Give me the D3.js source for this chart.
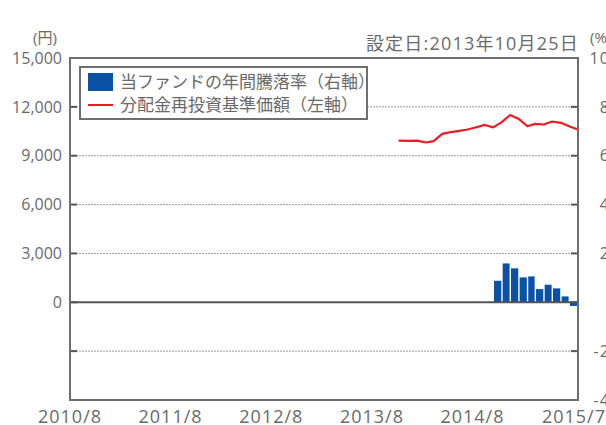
<!DOCTYPE html>
<html>
<head>
<meta charset="utf-8">
<script src="https://cdn.jsdelivr.net/npm/d3@7"></script>
<style>
  body { margin: 0; background: #fff; }
  text { font-family: "Open Sans", "Noto Sans CJK JP", sans-serif; fill: #6a6a6a; }
</style>
</head>
<body>
<div id="chart"></div>
<script>
// month-end navs (yen), left axis
const navDates = ['2013-10-25', '2013-11-30', '2013-12-31', '2014-01-31', '2014-02-28', '2014-03-31',
	'2014-04-30', '2014-05-31', '2014-06-30', '2014-07-31', '2014-08-31', '2014-09-30',
	'2014-10-31', '2014-11-30', '2014-12-31', '2015-01-31', '2015-02-28', '2015-03-31',
	'2015-04-30', '2015-05-31', '2015-06-30', '2015-07-31']
const navValues = [9930, 9910, 9930, 9810, 9895, 10340, 10445, 10525, 10610, 10750, 10890, 10740,
	11060, 11500, 11260, 10810, 10955, 10915, 11100, 11020, 10815, 10610]

// annual return (%), right axis
const retMonths = ['2014-10', '2014-11', '2014-12', '2015-01', '2015-02', '2015-03', '2015-04', '2015-05', '2015-06', '2015-07']
const retValues = [8.8, 15.9, 13.9, 10.2, 10.6, 5.4, 7.2, 5.7, 2.4, -1.5]

const leftTicks = [15000, 12000, 9000, 6000, 3000, 0, -3000, -6000]
const leftLabels = ['15,000', '12,000', '9,000', '6,000', '3,000', '0', '', '']
const rightTicks = [100, 80, 60, 40, 20, 0, -20, -40]
const xTickDates = ['2010-08-01', '2011-08-01', '2012-08-01', '2013-08-01', '2014-08-01', '2015-08-01']
const xTickLabels = ['2010/8', '2011/8', '2012/8', '2013/8', '2014/8', '2015/7']

const legendLabels = ['当ファンドの年間騰落率（右軸）', '分配金再投資基準価額（左軸）']

const width = 606
const height = 425
const margin = { top: 58, right: 28, bottom: 25, left: 70 }

const blue = '#0b52a6'
const red = '#ec1c24'
const frameColor = '#6e6e6e'

const parse = d3.timeParse('%Y-%m-%d')
const parseM = d3.timeParse('%Y-%m')

const svg = d3.select('#chart')
	.append('svg')
	.attr('width', width)
	.attr('height', height)

const x = d3.scaleTime()
	.domain([parse('2010-08-01'), parse('2015-08-01')])
	.range([margin.left, width - margin.right])

const yL = d3.scaleLinear()
	.domain([-6000, 15000])
	.range([height - margin.bottom, margin.top])

const yR = d3.scaleLinear()
	.domain([-40, 100])
	.range([height - margin.bottom, margin.top])

const x0 = margin.left
const x1 = width - margin.right

// dotted gridlines
svg.append('g')
	.selectAll('line')
	.data(leftTicks.filter(d => d != 0 && d != 15000 && d != -6000))
	.join('line')
	.attr('x1', x0)
	.attr('x2', x1)
	.attr('y1', d => yL(d))
	.attr('y2', d => yL(d))
	.attr('stroke', '#9a9a9a')
	.attr('stroke-width', 1)
	.attr('stroke-dasharray', '2,1')

// small inner ticks, left and right
const tickVals = leftTicks.filter(d => d != 15000 && d != -6000)
svg.append('g')
	.selectAll('line')
	.data(tickVals)
	.join('line')
	.attr('x1', x0)
	.attr('x2', x0 + 7)
	.attr('y1', d => yL(d))
	.attr('y2', d => yL(d))
	.attr('stroke', '#555')
	.attr('stroke-width', 2)
svg.append('g')
	.selectAll('line')
	.data(tickVals)
	.join('line')
	.attr('x1', x1 - 7)
	.attr('x2', x1)
	.attr('y1', d => yL(d))
	.attr('y2', d => yL(d))
	.attr('stroke', '#555')
	.attr('stroke-width', 2)

// bars
svg.append('g')
	.selectAll('rect')
	.data(retMonths.map((m, i) => ({ date: parseM(m), value: retValues[i] })))
	.join('rect')
	.attr('x', d => x(d.date) + 0.6)
	.attr('width', d => x(d3.timeMonth.offset(d.date, 1)) - x(d.date) - 1.4)
	.attr('y', d => Math.min(yR(d.value), yR(0)))
	.attr('height', d => Math.abs(yR(d.value) - yR(0)))
	.attr('fill', blue)

// zero line
svg.append('line')
	.attr('x1', x0)
	.attr('x2', x1)
	.attr('y1', yL(0))
	.attr('y2', yL(0))
	.attr('stroke', '#555')
	.attr('stroke-width', 2)

// nav line
const line = d3.line()
	.x((d, i) => x(parse(navDates[i])))
	.y(d => yL(d))

svg.append('path')
	.datum(navValues)
	.attr('d', line)
	.attr('fill', 'none')
	.attr('stroke', red)
	.attr('stroke-width', 2.2)
	.attr('stroke-linejoin', 'round')

// frame
svg.append('rect')
	.attr('x', x0)
	.attr('y', margin.top)
	.attr('width', x1 - x0)
	.attr('height', height - margin.bottom - margin.top)
	.attr('fill', 'none')
	.attr('stroke', frameColor)
	.attr('stroke-width', 2)

// left labels
svg.append('g')
	.style('font-size', '16px')
	.selectAll('text')
	.data(leftTicks)
	.join('text')
	.attr('x', 62)
	.attr('y', d => yL(d))
	.attr('dy', '0.36em')
	.attr('text-anchor', 'end')
	.text((d, i) => leftLabels[i])

// right labels (mostly cut off by the page edge, as in the original)
svg.append('g')
	.style('font-size', '16px')
	.style('letter-spacing', '1px')
	.selectAll('text')
	.data(rightTicks)
	.join('text')
	.attr('x', 620)
	.attr('y', d => yR(d))
	.attr('dy', '0.36em')
	.attr('text-anchor', 'end')
	.text(d => d)

// x labels, the last one kept inside the page
const nX = xTickDates.length
svg.append('g')
	.style('font-size', '18px')
	.style('letter-spacing', '1px')
	.selectAll('text')
	.data(xTickDates)
	.join('text')
	.attr('x', (d, i) => i == nX - 1 ? width : x(parse(d)) - i)
	.attr('y', 423)
	.attr('text-anchor', (d, i) => i == nX - 1 ? 'end' : 'middle')
	.text((d, i) => xTickLabels[i])

// units and set date
svg.append('text')
	.attr('x', 45)
	.attr('y', 43)
	.attr('text-anchor', 'middle')
	.style('font-size', '15px')
	.text('(円)')
svg.append('text')
	.attr('x', 590)
	.attr('y', 43)
	.style('font-size', '15px')
	.text('(%)')
svg.append('text')
	.attr('x', 579)
	.attr('y', 50)
	.attr('text-anchor', 'end')
	.style('font-size', '18px')
	.style('letter-spacing', '1.2px')
	.text('設定日:2013年10月25日')

// legend
const legend = svg.append('g')
legend.append('rect')
	.attr('x', 80)
	.attr('y', 67)
	.attr('width', 287)
	.attr('height', 52)
	.attr('fill', '#fff')
	.attr('stroke', frameColor)
	.attr('stroke-width', 2)
legend.append('rect')
	.attr('x', 88)
	.attr('y', 73)
	.attr('width', 25)
	.attr('height', 18)
	.attr('fill', blue)
legend.append('line')
	.attr('x1', 88)
	.attr('x2', 113)
	.attr('y1', 105)
	.attr('y2', 105)
	.attr('stroke', red)
	.attr('stroke-width', 2)
legend.selectAll('text.lg')
	.data(legendLabels)
	.join('text')
	.attr('class', 'lg')
	.attr('x', 120)
	.attr('y', (d, i) => 82 + i * 23)
	.attr('dy', '0.36em')
	.style('font-size', '17px')
	.text(d => d)
</script>
</body>
</html>
